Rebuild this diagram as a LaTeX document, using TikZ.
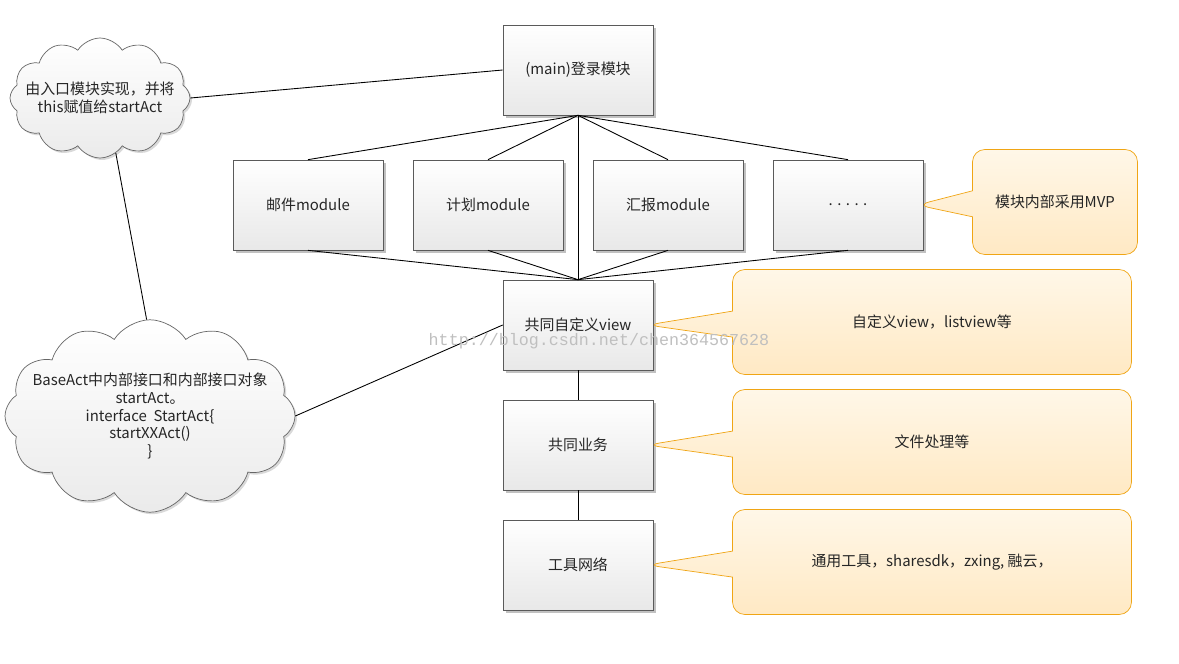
\documentclass[tikz,border=0pt]{standalone}
\usepackage{fontspec}
\setmainfont{Noto Sans CJK SC}
\newfontfamily\wmfont{Liberation Mono}
\usetikzlibrary{shapes.symbols,shapes.callouts,shadows}
\definecolor{boxline}{RGB}{90,90,90}
\definecolor{notetop}{RGB}{255,247,232}
\definecolor{notebot}{RGB}{255,233,196}
\definecolor{noteline}{RGB}{240,165,20}

\begin{document}
\begin{tikzpicture}[x=0.02cm,y=-0.02cm,
    every node/.style={font=\fontsize{8.5}{10.2}\selectfont, text=black!85},
    modbox/.style={draw=boxline, top color=white, bottom color=black!9,
      minimum width=3cm, minimum height=1.8cm,
      drop shadow={shadow xshift=0.06cm, shadow yshift=-0.06cm, fill=black!30, opacity=0.8}},
    note/.style={rectangle callout, draw=noteline, top color=notetop, bottom color=notebot,
      rounded corners=7pt, callout pointer width=0.52cm, minimum height=2.1cm},
    thought/.style={cloud, cloud puffs=12, cloud puff arc=115, draw=black!60,
      top color=white, bottom color=black!8, inner sep=0pt,
      drop shadow={shadow xshift=0.04cm, shadow yshift=-0.04cm, fill=black!25, opacity=0.6}},
    link/.style={draw=black, line width=0.5pt}]
  \useasboundingbox (0,0) rectangle (1179,663);

  % layers
  \node[modbox] (login) at (578,70) {(main)登录模块};
  \node[modbox] (mail) at (308,205) {邮件module};
  \node[modbox] (plan) at (488,205) {计划module};
  \node[modbox] (report) at (668,205) {汇报module};
  \node[modbox] (more) at (848,205) {. . . . .};
  \node[modbox] (view) at (578,325) {共同自定义view};
  \node[modbox] (biz) at (578,445) {共同业务};
  \node[modbox] (tools) at (578,565) {工具网络};

  % notes
  \node[note, minimum width=3.3cm, callout absolute pointer={([xshift=-3.5pt]more.east)}] (mvp) at (1055,202) {模块内部采用MVP};
  \node[note, minimum width=7.98cm, callout absolute pointer={([xshift=-3.5pt]view.east)}] (viewnote) at (932,322) {自定义view，listview等};
  \node[note, minimum width=7.98cm, callout absolute pointer={([xshift=-3.5pt]biz.east)}] (biznote) at (932,442) {文件处理等};
  \node[note, minimum width=7.98cm, callout absolute pointer={([xshift=-3.5pt]tools.east)}] (toolnote) at (932,562) {通用工具，sharesdk，zxing, 融云，};

  % clouds
  \node[thought, minimum width=3.6cm, minimum height=2.4cm] (entry) at (100,98) {};
  \node[align=center] (entrytxt) at (entry) {由入口模块实现，并将\\this赋值给startAct};
  \node[thought, minimum width=5.8cm, minimum height=3.85cm] (base) at (150,416) {};
  \node[align=center] (basetxt) at (base) {BaseAct中内部接口和内部接口对象\\startAct。\\interface~~StartAct\{\\startXXAct()\\\}};

  % connectors
  \foreach \m in {mail,plan,report,more}{
    \draw[link] (login.south) -- (\m.north);
    \draw[link] (\m.south) -- (view.north);
  }
  \draw[link] (login.south) -- (view.north);
  \draw[link] (view.south) -- (biz.north);
  \draw[link] (biz.south) -- (tools.north);
  \draw[link] (entry.east) -- (login.west);
  \draw[link] (entry.-74) -- (base.92);
  \draw[link] (base.east) -- (view.west);

  \node[text=black!25, font=\wmfont\fontsize{9.5}{10}\selectfont] (mark) at (599,341) {http://blog.csdn.net/chen364567628};
\end{tikzpicture}
\end{document}
